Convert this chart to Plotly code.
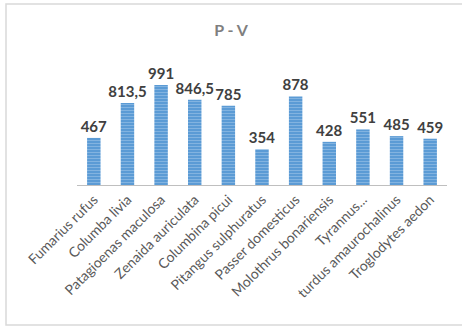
import plotly.graph_objects as go

categories = ["Fumarius rufus", "Columba livia", "Patagioenas maculosa", "Zenaida auriculata",
              "Columbina picui", "Pitangus sulphuratus", "Passer domesticus", "Molothrus bonariensis",
              "Tyrannus...", "turdus amaurochalinus", "Troglodytes aedon"]
values = [467, 813.5, 991, 846.5, 785, 354, 878, 428, 551, 485, 459]
labels = [(str(v) if v != int(v) else str(int(v))).replace(".", ",") for v in values]

W, H = 462, 329
L, R, T, B = 77, 15, 64, 144
pw, ph = W - L - R, H - T - B

def px(x):
    return (x - L) / pw

def py(y):
    return (H - B - y) / ph

FONT = "Lato, Open Sans, sans-serif"

fig = go.Figure(go.Bar(
    x=categories, y=values, text=labels, textposition="outside",
    constraintext="none",
    textfont=dict(family=FONT, size=15, color="#404040", weight="bold"),
    marker=dict(color="#5b9bd5", line=dict(width=0),
                pattern=dict(shape="-", fgcolor="#a9cbec", size=3, solidity=0.35)),
    cliponaxis=False,
))

fig.update_layout(
    width=W, height=H,
    margin=dict(l=L, r=R, t=T, b=B, autoexpand=False),
    paper_bgcolor="white", plot_bgcolor="white",
    bargap=0.6,
    showlegend=False,
    title=dict(text="<b>P - V</b>", x=231 / W, xanchor="center", y=1 - 30 / H, yanchor="middle",
               font=dict(family=FONT, size=16, color="#7f7f7f")),
    xaxis=dict(showline=True, linecolor="#bfbfbf", linewidth=1, ticks="", tickangle=-45,
               automargin=False,
               tickfont=dict(family=FONT, size=14, color="#595959"),
               showgrid=False),
    yaxis=dict(range=[0, 1200], visible=False, showgrid=False, zeroline=False, automargin=False),
    shapes=[dict(type="rect", xref="paper", yref="paper",
                 x0=px(6), x1=px(470), y0=py(325), y1=py(4),
                 line=dict(color="#d9d9d9", width=1.5))],
)

fig.write_html("out.html", config={"displayModeBar": False},
               post_script="document.body.style.margin='0px';document.body.style.overflow='hidden';")
